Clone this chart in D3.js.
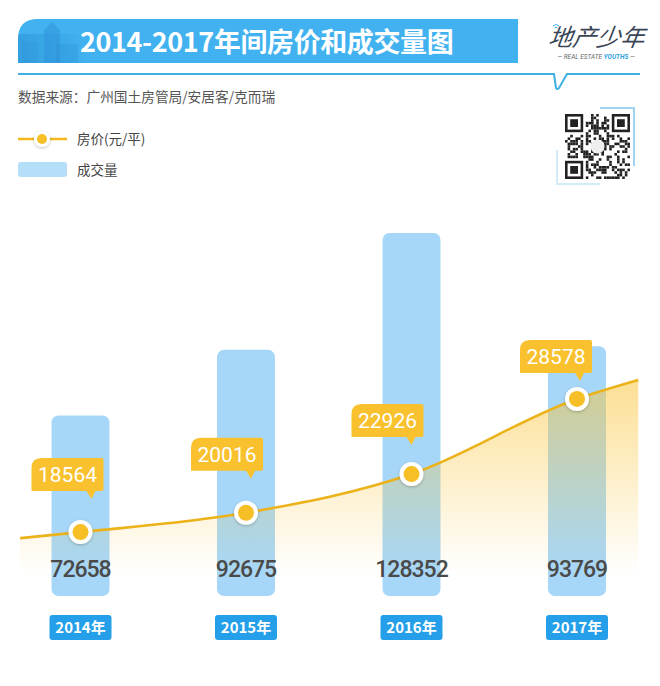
<!DOCTYPE html>
<html><head><meta charset="utf-8">
<script src="https://cdn.jsdelivr.net/npm/d3@7"></script>
<style>
html,body{margin:0;padding:0;background:#fff;}
svg{display:block;}
</style></head>
<body>
<script>
// ---- data ----
const years = ['2014年', '2015年', '2016年', '2017年'];
const volume = [72658, 92675, 128352, 93769];     // 成交量
const price = [18564, 20016, 22926, 28578];        // 房价(元/平)
const priceEdges = [18110, 30000];                 // line continues past first / last year
const titleText = '2014-2017年间房价和成交量图';
const sourceText = '数据来源：广州国土房管局/安居客/克而瑞';
const legendLabels = ['房价(元/平)', '成交量'];

// ---- layout ----
const W = 660, H = 686;
const CJK = '"Noto Sans CJK SC","Noto Sans",sans-serif';
const NUM = 'Roboto,"Noto Sans",sans-serif';
const barBottom = 596, barW = 58;
const calloutLift = [41, 42, 37, 26];
const calloutDx = [-49, -55, -60, -57];

const svg = d3.select('body').append('svg').attr('width', W).attr('height', H);
const defs = svg.append('defs');

const x = d3.scaleLinear().domain([0, years.length - 1]).range([80.5, 577]);
const yVol = d3.scaleLinear().domain([17500, 128352]).range([barBottom, 233]);
const yPrice = d3.scaleLinear().domain([18000, 30000]).range([539.6, 380]);

// gradients & filters
const ag = defs.append('linearGradient').attr('id', 'areaGrad')
  .attr('gradientUnits', 'userSpaceOnUse').attr('x1', 0).attr('x2', 0).attr('y1', 380).attr('y2', 575);
ag.append('stop').attr('offset', 0).attr('stop-color', '#f9c53c').attr('stop-opacity', 0.55);
ag.append('stop').attr('offset', 0.45).attr('stop-color', '#f9c53c').attr('stop-opacity', 0.3);
ag.append('stop').attr('offset', 1).attr('stop-color', '#f9c53c').attr('stop-opacity', 0);

const sh = defs.append('filter').attr('id', 'shadow').attr('x', '-50%').attr('y', '-50%').attr('width', '200%').attr('height', '200%');
sh.append('feDropShadow').attr('dx', 0).attr('dy', 1).attr('stdDeviation', 1.5)
  .attr('flood-color', '#000').attr('flood-opacity', 0.25);

const bannerClip = defs.append('clipPath').attr('id', 'bannerClip');
bannerClip.append('path').attr('d', 'M18,63 V39 Q18,19 38,19 H518 V63 Z');
const bg = defs.append('linearGradient').attr('id', 'bldFade').attr('x1', 0).attr('x2', 1).attr('y1', 0).attr('y2', 0);
bg.append('stop').attr('offset', 0).attr('stop-color', '#1d7fc6').attr('stop-opacity', 0.35);
bg.append('stop').attr('offset', 1).attr('stop-color', '#1d7fc6').attr('stop-opacity', 0.0);

// ---- header ----
svg.append('path').attr('d', 'M18,63 V39 Q18,19 38,19 H518 V63 Z').attr('fill', '#41b1ef');
const bld = svg.append('g').attr('clip-path', 'url(#bannerClip)');
bld.append('rect').attr('x', 18).attr('y', 34).attr('width', 70).attr('height', 30).attr('fill', 'url(#bldFade)');
bld.append('path').attr('d', 'M44,63 V30 L52,22 L60,30 V63 Z').attr('fill', '#2c8fd6').attr('opacity', 0.45);
bld.append('rect').attr('x', 56).attr('y', 44).attr('width', 22).attr('height', 20).attr('fill', '#2c8fd6').attr('opacity', 0.3);
bld.append('rect').attr('x', 22).attr('y', 42).attr('width', 16).attr('height', 22).attr('fill', '#2c8fd6').attr('opacity', 0.25);
svg.append('text').attr('x', 80).attr('y', 52).attr('font-family', CJK).attr('font-weight', 700)
  .attr('font-size', 27).attr('letter-spacing', -0.4).attr('fill', '#fff').text(titleText);

svg.append('path').attr('d', 'M18,74 H554 L556,88 Q557,90 559,88 L567,74 H640')
  .attr('fill', 'none').attr('stroke', '#3eb0e3').attr('stroke-width', 2);

// logo
svg.append('text').attr('x', 596).attr('y', 46).attr('text-anchor', 'middle')
  .attr('font-family', CJK).attr('font-size', 24).attr('font-style', 'italic')
  .attr('transform', 'skewX(-8) translate(6,0)')
  .attr('fill', '#3a4656').text('地产少年');
svg.append('path').attr('d', 'M553,26 q3,-3 6,0 M554.5,28 q1.5,-1.5 3,0').attr('fill', 'none').attr('stroke', '#3eb0e3').attr('stroke-width', 1);
const sub = svg.append('text').attr('x', 596).attr('y', 59).attr('text-anchor', 'middle')
  .attr('font-family', NUM).attr('font-size', 6.5).attr('font-style', 'italic').attr('fill', '#666');
sub.append('tspan').text('— REAL ESTATE ');
sub.append('tspan').attr('fill', '#2f9fe0').attr('font-weight', 700).text('YOUTHS');
sub.append('tspan').text(' —');

svg.append('text').attr('x', 18).attr('y', 102).attr('font-family', CJK).attr('font-size', 13.7)
  .attr('fill', '#555').text(sourceText);

// QR code (decorative)
const qr = svg.append('g');
qr.append('path').attr('d', 'M600,108 H634 V166').attr('fill', 'none').attr('stroke', '#9fd3f0').attr('stroke-width', 2);
qr.append('path').attr('d', 'M557,150 V184 H600').attr('fill', 'none').attr('stroke', '#d3ebf8').attr('stroke-width', 2);
qr.append('rect').attr('x', 562).attr('y', 112).attr('width', 69).attr('height', 68).attr('fill', '#fff');
const N = 25, ms = 2.6, qx = 565, qy = 114;
const cells = [];
for (let r = 0; r < N; r++) for (let c = 0; c < N; c++) {
  const inFinder = (r < 8 && c < 8) || (r < 8 && c >= N - 8) || (r >= N - 8 && c < 8);
  if (inFinder) continue;
  const h = ((r * 31 + c * 17 + r * c * 7) ^ (r * 5 + c * 11)) % 7;
  if (h < 3) cells.push([r, c]);
}
qr.selectAll('rect.m').data(cells).join('rect').attr('class', 'm')
  .attr('x', d => qx + d[1] * ms).attr('y', d => qy + d[0] * ms)
  .attr('width', ms).attr('height', ms).attr('fill', '#222');
[[0, 0], [0, N - 7], [N - 7, 0]].forEach(([r, c]) => {
  qr.append('rect').attr('x', qx + c * ms + ms / 2).attr('y', qy + r * ms + ms / 2)
    .attr('width', 6 * ms).attr('height', 6 * ms).attr('fill', 'none').attr('stroke', '#222').attr('stroke-width', ms);
  qr.append('rect').attr('x', qx + (c + 2) * ms).attr('y', qy + (r + 2) * ms)
    .attr('width', 3 * ms).attr('height', 3 * ms).attr('fill', '#222');
});
qr.append('circle').attr('cx', qx + N * ms / 2).attr('cy', qy + N * ms / 2).attr('r', 7).attr('fill', '#eee');

// ---- legend ----
const lg = svg.append('g');
lg.append('line').attr('x1', 18).attr('x2', 67).attr('y1', 139).attr('y2', 139).attr('stroke', '#f2b81c').attr('stroke-width', 2.5);
lg.append('circle').attr('cx', 42).attr('cy', 139).attr('r', 8).attr('fill', '#fff').attr('filter', 'url(#shadow)');
lg.append('circle').attr('cx', 42).attr('cy', 139).attr('r', 5).attr('fill', '#f7bf26');
lg.append('rect').attr('x', 18).attr('y', 162).attr('width', 49).attr('height', 15).attr('rx', 3).attr('fill', '#b5dff9');
lg.selectAll('text').data(legendLabels).join('text')
  .attr('x', 77).attr('y', (d, i) => i === 0 ? 144 : 175)
  .attr('font-family', CJK).attr('font-size', 13.5).attr('fill', '#444').text(d => d);

// ---- bars ----
svg.append('g').selectAll('rect').data(volume).join('rect')
  .attr('x', (d, i) => x(i) - barW / 2).attr('y', d => yVol(d))
  .attr('width', barW).attr('height', d => barBottom - yVol(d))
  .attr('rx', 7).attr('fill', '#a7d7f8');

// ---- price line + area ----
const linePts = [[x(-0.365), yPrice(priceEdges[0])]]
  .concat(price.map((d, i) => [x(i), yPrice(d)]))
  .concat([[x(years.length - 1 + 0.37), yPrice(priceEdges[1])]]);
const area = d3.area().x(d => d[0]).y0(600).y1(d => d[1]).curve(d3.curveMonotoneX);
const line = d3.line().x(d => d[0]).y(d => d[1]).curve(d3.curveMonotoneX);
svg.append('path').datum(linePts).attr('d', area).attr('fill', 'url(#areaGrad)');
svg.append('path').datum(linePts).attr('d', line).attr('fill', 'none')
  .attr('stroke', '#ecb21a').attr('stroke-width', 2.6);

// volume labels
svg.append('g').selectAll('text').data(volume).join('text')
  .attr('x', (d, i) => x(i)).attr('y', 577).attr('text-anchor', 'middle')
  .attr('font-family', NUM).attr('font-size', 23).attr('font-weight', 500).attr('letter-spacing', -1)
  .attr('fill', '#4a4a4a').text(d => d);

// markers
const mk = svg.append('g').selectAll('g').data(price).join('g')
  .attr('transform', (d, i) => `translate(${x(i)},${yPrice(d)})`);
mk.append('circle').attr('r', 12).attr('fill', '#fff').attr('filter', 'url(#shadow)');
mk.append('circle').attr('r', 8).attr('fill', '#f7bf26');

// callouts
const cw = 72, ch = 33;
const co = svg.append('g').selectAll('g').data(price).join('g')
  .attr('transform', (d, i) => `translate(${x(i) + calloutDx[i]},${yPrice(d) - calloutLift[i] - ch})`);
co.append('path').attr('fill', '#f9c12e')
  .attr('d', `M0,${ch} V10 Q0,0 10,0 H${cw - 2} Q${cw},0 ${cw},2 V${ch - 2} Q${cw},${ch} ${cw - 2},${ch}
     H${cw - 8} L${cw - 12},${ch + 8} L${cw - 17},${ch} Z`);
co.append('text').attr('x', cw / 2).attr('y', ch / 2 + 7.5).attr('text-anchor', 'middle')
  .attr('font-family', NUM).attr('font-size', 21).attr('fill', '#fff').text(d => d);

// year labels
const yl = svg.append('g').selectAll('g').data(years).join('g')
  .attr('transform', (d, i) => `translate(${x(i)},627.5)`);
yl.append('rect').attr('x', -31).attr('y', -12.5).attr('width', 62).attr('height', 25).attr('rx', 3).attr('fill', '#259fe9');
yl.append('text').attr('y', 5.5).attr('text-anchor', 'middle').attr('font-family', CJK)
  .attr('font-size', 15).attr('font-weight', 700).attr('fill', '#fff').text(d => d);
</script>
</body></html>
